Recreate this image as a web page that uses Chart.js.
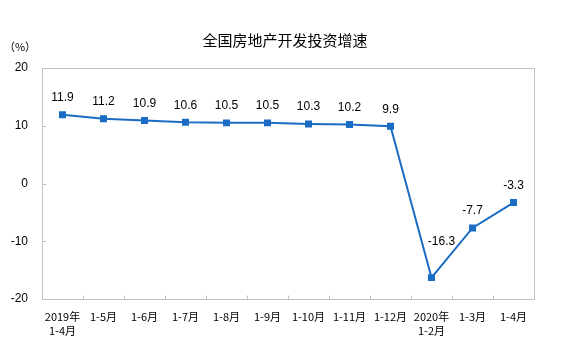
<!DOCTYPE html>
<html><head><meta charset="utf-8">
<script src="https://cdn.jsdelivr.net/npm/chart.js@4/dist/chart.umd.min.js"></script>
<style>html,body{margin:0;padding:0;background:#fff}#wrap{width:564px;height:360px}</style>
</head><body><div id="wrap"><canvas id="c" width="564" height="360"></canvas></div>
<script>
const categories = [['2019年','1-4月'],'1-5月','1-6月','1-7月','1-8月','1-9月','1-10月','1-11月','1-12月',['2020年','1-2月'],'1-3月','1-4月'];
const growth = [11.9, 11.2, 10.9, 10.6, 10.5, 10.5, 10.3, 10.2, 9.9, -16.3, -7.7, -3.3];
const yTicks = [-20, -10, 0, 10, 20];
const titleText = '全国房地产开发投资增速';
const unitText = '（%）';

const frame = {
  id: 'frame',
  afterDatasetsDraw(chart) {
    const {ctx, chartArea: a} = chart;
    const L = Math.round(a.left)+0.5, T = Math.round(a.top)+0.5, R = Math.round(a.right)+0.5, B = Math.round(a.bottom)+0.5;
    ctx.save();
    ctx.strokeStyle = '#c0c0c0'; ctx.lineWidth = 1;
    ctx.strokeRect(L, T, R-L, B-T);
    // inward ticks
    ctx.beginPath();
    const xs = chart.scales.x, ys = chart.scales.y;
    for (let i = 1; i < growth.length; i++) {
      const x = Math.round((xs.getPixelForValue(i-1) + xs.getPixelForValue(i))/2)+0.5;
      ctx.moveTo(x, B); ctx.lineTo(x, B-4);
    }
    yTicks.forEach(v => { const y = Math.round(ys.getPixelForValue(v))+0.5; ctx.moveTo(L, y); ctx.lineTo(L+4, y); });
    ctx.stroke();
    ctx.fillStyle = '#000';
    ctx.font = '15px "Noto Sans CJK SC"';
    ctx.textAlign = 'center'; ctx.textBaseline = 'middle';
    ctx.fillText(titleText, 285, 40);
    ctx.font = '11px "Noto Sans CJK SC"';
    ctx.fillText(unitText, 20, 47);
    // data labels
    const meta = chart.getDatasetMeta(0);
    ctx.font = '12px "Liberation Sans"';
    meta.data.forEach((p, i) => {
      const v = growth[i];
      let dx = 0, dy = -17;
      if (i === 9) { dx = 10; dy = -36; }
      ctx.fillText(String(v), p.x + dx, p.y + dy);
    });
    ctx.restore();
  }
};

new Chart(document.getElementById('c'), {
  type: 'line',
  data: {
    labels: categories,
    datasets: [{
      data: growth,
      borderColor: '#1a6cc4',
      backgroundColor: '#1a6cc4',
      borderWidth: 2,
      pointStyle: 'rect',
      pointRadius: 3.5,
      pointHoverRadius: 3.5,
      tension: 0
    }]
  },
  options: {
    responsive: false,
    animation: false,
    devicePixelRatio: 1,
    layout: { padding: { top: 68, right: 30, left: 0, bottom: 0 } },
    plugins: { legend: { display: false }, tooltip: { enabled: false } },
    scales: {
      x: {
        offset: true,
        grid: { display: false, drawTicks: false },
        border: { display: false },
        ticks: { color: '#000', font: { size: 11, family: '"Noto Sans CJK SC"', lineHeight: 1.35 }, maxRotation: 0, autoSkip: false, padding: 10 },
        afterFit(s) { s.height = 61; }
      },
      y: {
        min: -20, max: 20,
        afterBuildTicks(s) { s.ticks = yTicks.map(v => ({ value: v })); },
        grid: { display: false, drawTicks: false },
        border: { display: false },
        ticks: { color: '#000', font: { size: 12, family: '"Liberation Sans"' }, padding: 14 },
        afterFit(s) { s.width = 42; }
      }
    }
  },
  plugins: [frame]
});
</script></body></html>
